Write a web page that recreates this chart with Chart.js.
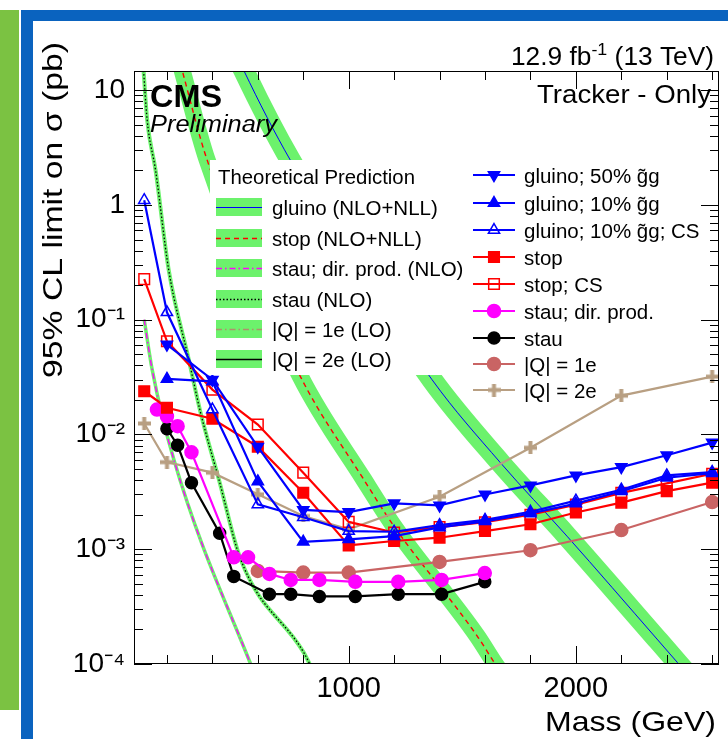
<!DOCTYPE html>
<html><head><meta charset="utf-8">
<script src="https://cdn.jsdelivr.net/npm/chart.js@4/dist/chart.umd.min.js"></script>
<style>html,body{margin:0;padding:0;background:#fff;}canvas{display:block}</style>
</head><body>
<canvas id="c" width="728" height="739"></canvas>
<script>
// ---------------- data ----------------
const X_MIN = 55, X_MAX = 2630;
const Y_MIN = 1e-4, Y_MAX = 14.7;
const xTickValues = [200,400,600,800,1000,1200,1400,1600,1800,2000,2200,2400,2600];
const xMajorLabels = [1000, 2000];
const yDecadeLabels = {'-4':'10⁻⁴','-3':'10⁻³','-2':'10⁻²','-1':'10⁻¹','0':'1','1':'10'};

const massG50 = [200,400,600,800,1000,1200,1400,1600,1800,2000,2200,2400,2600];
const gluino50 = [0.0607,0.030,0.0078,0.0022,0.00211,0.00251,0.00241,0.0030,0.0036,0.0044,0.0052,0.0066,0.0085];
const massG10 = [200,400,600,800,1000,1200,1400,1600,1800,2000,2200,2400,2600];
const gluino10 = [0.0305,0.029,0.0039,0.00116,0.00122,0.0013,0.00155,0.00175,0.00205,0.0025,0.0032,0.0042,0.0046];
const massG10CS = [100,200,400,600,800,1000,1200,1400,1600,1800,2000,2200,2400,2600];
const gluino10CS = [1.10,0.116,0.0165,0.00246,0.0019,0.00144,0.00142,0.00162,0.0018,0.00212,0.00265,0.0033,0.0044,0.0047];
const massStop = [100,200,400,600,800,1000,1200,1400,1600,1800,2000,2200,2400,2600];
const stop = [0.0238,0.0171,0.0137,0.00782,0.00311,0.00108,0.00118,0.00126,0.00144,0.00165,0.00209,0.00255,0.00321,0.0038];
const stopCS = [0.226,0.0649,0.0246,0.0122,0.00465,0.00173,0.0014,0.00156,0.00172,0.0020,0.00245,0.0031,0.00375,0.00455];
const massStauDir = [156,200,247,308,494,557,651,745,871,1029,1218,1409,1599];
const stauDir = [0.0165,0.0144,0.0118,0.0070,0.00085,0.00085,0.00061,0.00054,0.00054,0.00052,0.00052,0.00054,0.00062];
const massStau = [200,247,308,432,494,651,745,871,1029,1218,1409,1599];
const stau = [0.01122,0.00807,0.0038,0.00138,0.00058,0.000406,0.000406,0.000388,0.000388,0.000406,0.000406,0.00052];
const massQ1 = [600,800,1000,1400,1800,2200,2600];
const q1 = [0.000647,0.000626,0.000626,0.000776,0.00098,0.00147,0.00258];
const massQ2 = [100,200,400,600,800,1000,1400,1800,2200,2600];
const q2 = [0.01247,0.00574,0.00465,0.00301,0.00195,0.00149,0.00287,0.00766,0.0218,0.0319];

// theory predictions (central values read along the bands)
const massThGluino = [500,538,743,1367,1667,1961,2357,2447,2520];
const thGluino = [22,14.9,2.46,0.030,0.0057,0.0013,1.65e-4,1.03e-4,7e-5];
const massThStop = [250,267,377,787,1066,1198,1565,1645,1700];
const thStop = [20,14.9,2.46,0.0321,0.00406,0.0016,1.76e-4,1.0e-4,7e-5];
const massThStauDir = [100,135,230,560,590];
const thStauDir = [0.1,0.0367,0.00607,1.1e-4,8e-5];
const massThStau = [95,113,150,208,296,348,428,524,802,840];
const thStau = [17,5.5,2.0,0.27,0.045,0.0155,0.0041,0.00082,1.26e-4,9e-5];

const legendTheory = ['gluino (NLO+NLL)','stop (NLO+NLL)','stau; dir. prod. (NLO)','stau (NLO)','|Q| = 1e (LO)','|Q| = 2e (LO)'];
const legendData = ['gluino; 50% g̃g','gluino; 10% g̃g','gluino; 10% g̃g; CS','stop','stop; CS','stau; dir. prod.','stau','|Q| = 1e','|Q| = 2e'];

// ---------------- styling ----------------
const FONT = '"Liberation Sans", Arial, Helvetica, sans-serif';
const BLUE='#0000ff', RED='#ff0000', MAG='#ff00ff', BLK='#000000', ROSY='#c96464', TAN='#b89f82';
const GREEN='#6cf26c';

function pts(xs, ys){ return xs.map((x,i)=>({x:x, y:ys[i]})); }

const plusMarker = document.createElement('canvas');
plusMarker.width = 13; plusMarker.height = 13;
(function(){ const g = plusMarker.getContext('2d'); g.fillStyle = TAN;
  g.fillRect(4.5,0,4,13); g.fillRect(0,4.5,13,4); })();

function dataDS(label, xs, ys, color, style, opts){
  return Object.assign({label, data: pts(xs,ys), borderColor: color, backgroundColor: color,
    borderWidth: 2.2, pointStyle: style, pointRadius: 6, pointBorderWidth: 1.5,
    pointBackgroundColor: color, pointBorderColor: color, tension: 0, order: 0, fill:false}, opts||{});
}
function bandDS(xs, ys, width){
  return {data: pts(xs,ys), borderColor: GREEN, borderWidth: width, pointRadius: 0, borderCapStyle:'butt',
    cubicInterpolationMode:'monotone', order: 20, fill:false, label:'band'};
}
function lineDS(xs, ys, color, width, dash){
  return {data: pts(xs,ys), borderColor: color, borderWidth: width, pointRadius: 0, borderDash: dash||[],
    cubicInterpolationMode:'monotone', order: 10, fill:false, label:'th'};
}

const datasets = [
  dataDS('g50', massG50, gluino50, BLUE, 'triangle', {pointRotation:180, pointRadius:6.5}),
  dataDS('g10', massG10, gluino10, BLUE, 'triangle', {pointRadius:6.5}),
  dataDS('g10cs', massG10CS, gluino10CS, BLUE, 'triangle', {pointRadius:6.5, pointBackgroundColor:'rgba(0,0,0,0)'}),
  dataDS('stop', massStop, stop, RED, 'rect', {pointRadius:7.5}),
  dataDS('stopcs', massStop, stopCS, RED, 'rect', {pointRadius:7.5, pointBackgroundColor:'rgba(0,0,0,0)'}),
  dataDS('staudir', massStauDir, stauDir, MAG, 'circle', {pointRadius:6.5}),
  dataDS('stau', massStau, stau, BLK, 'circle', {pointRadius:6}),
  dataDS('q1', massQ1, q1, ROSY, 'circle', {pointRadius:6.5}),
  dataDS('q2', massQ2, q2, TAN, plusMarker, {}),
  lineDS(massThGluino, thGluino, BLUE, 1),
  lineDS(massThStop, thStop, RED, 1.4, [5,4]),
  lineDS(massThStauDir, thStauDir, MAG, 1.4, [6,3,1.5,3]),
  lineDS(massThStau, thStau, BLK, 1.3, [1.5,2]),
  bandDS(massThGluino, thGluino, 21),
  bandDS(massThStop, thStop, 17),
  bandDS(massThStauDir, thStauDir, 3.5),
  bandDS(massThStau, thStau, 4),
];

function txt(ctx, s, x, y, size, opt){
  opt = opt || {};
  ctx.save();
  ctx.font = (opt.style||'') + ' ' + size + 'px ' + FONT;
  ctx.fillStyle = opt.color || '#000';
  ctx.textBaseline = 'alphabetic';
  const w = ctx.measureText(s).width;
  const sx = opt.width ? opt.width / w : (opt.sx || 1);
  let x0 = x;
  if (opt.align === 'right') x0 = x - w*sx; else if (opt.align === 'center') x0 = x - w*sx/2;
  ctx.translate(x0, y); ctx.scale(sx, 1);
  ctx.textAlign = 'left';
  ctx.fillText(s, 0, 0);
  ctx.restore();
  return w*sx;
}

const decor = {
  id: 'decor',
  beforeDraw(chart){
    const ctx = chart.ctx;
    ctx.save();
    ctx.fillStyle = '#fff'; ctx.fillRect(0,0,728,739);
    ctx.fillStyle = '#7bc242'; ctx.fillRect(0,10,19,700);
    ctx.fillStyle = '#0a63bf';
    ctx.fillRect(21,10,12,729); ctx.fillRect(21,10,707,11);
    ctx.restore();
  },
  afterDatasetsDraw(chart){
    const ctx = chart.ctx, a = chart.chartArea;
    const xs = chart.scales.x, ys = chart.scales.y;
    ctx.save();
    ctx.strokeStyle = '#000'; ctx.lineWidth = 1;
    ctx.strokeRect(a.left+0.5, a.top+0.5, a.right-a.left-1, a.bottom-a.top-1);
    ctx.beginPath();
    for (let d=-4; d<=1; d++){
      for (let k=1; k<=9; k++){
        const v = k*Math.pow(10,d);
        if (v < Y_MIN*0.999 || v > Y_MAX) continue;
        const py = Math.round(ys.getPixelForValue(v))+0.5;
        const L = k===1 ? 18 : 9;
        ctx.moveTo(a.left, py); ctx.lineTo(a.left+L, py);
        ctx.moveTo(a.right, py); ctx.lineTo(a.right-L, py);
      }
    }
    xTickValues.forEach(m=>{
      const px = Math.round(xs.getPixelForValue(m))+0.5;
      const L = xMajorLabels.includes(m) ? 18 : 9;
      ctx.moveTo(px, a.bottom); ctx.lineTo(px, a.bottom-L);
      ctx.moveTo(px, a.top); ctx.lineTo(px, a.top+L);
    });
    ctx.stroke();

    ctx.fillStyle = '#fff'; ctx.fillRect(210,160,255,215);
    txt(ctx, 'Theoretical Prediction', 218, 184, 20.5, {width:197});
    const lrows = [207,238,268,299,329,359];
    const tStyles = [[BLUE,1.2,[]],[RED,1.4,[5,4]],[MAG,1.4,[6,3,1.5,3]],[BLK,1.3,[1.5,2]],['#b0906c',1.4,[6,3,1.5,3]],[BLK,1.4,[]]];
    lrows.forEach((y,i)=>{
      ctx.fillStyle = GREEN; ctx.fillRect(216, y-9, 46, 18);
      ctx.strokeStyle = tStyles[i][0]; ctx.lineWidth = tStyles[i][1]; ctx.setLineDash(tStyles[i][2]);
      ctx.beginPath(); ctx.moveTo(216, y+0.5); ctx.lineTo(262, y+0.5); ctx.stroke();
      ctx.setLineDash([]);
      txt(ctx, legendTheory[i], 272, y+7.5, 20.5, {});
    });

    const rrows = [175,203,230,257,284,311,338,364,390];
    datasets.slice(0,9).forEach((ds,i)=>{
      const y = rrows[i];
      ctx.strokeStyle = ds.borderColor; ctx.lineWidth = 2.2;
      ctx.beginPath(); ctx.moveTo(473, y); ctx.lineTo(515, y); ctx.stroke();
      ctx.fillStyle = ds.pointBackgroundColor; ctx.strokeStyle = ds.pointBorderColor; ctx.lineWidth = ds.pointBorderWidth;
      Chart.helpers.drawPoint(ctx, {pointStyle: ds.pointStyle, rotation: ds.pointRotation||0, radius: ds.pointRadius, borderWidth: ds.pointBorderWidth}, 494, y);
      txt(ctx, legendData[i], 524, y+7.5, 20.5, {});
    });

    txt(ctx, 'CMS', 150, 107, 32, {style:'bold', width:72});
    txt(ctx, 'Preliminary', 150, 132, 23, {style:'italic', width:127});
    txt(ctx, 'Tracker - Only', 711, 103, 25, {align:'right', width:174});
    {
      const parts = [['12.9 fb',25,0],['-1',17,-10],[' (13 TeV)',25,0]];
      let tot = 0; parts.forEach(p=>{ctx.font=p[1]+'px '+FONT; tot += ctx.measureText(p[0]).width;});
      const sx = 203/tot; let x = 714 - 203;
      parts.forEach(p=>{ x += txt(ctx, p[0], x, 65+p[2], p[1], {sx:sx}); });
    }
    txt(ctx, 'Mass (GeV)', 716, 731, 28, {align:'right', width:171});
    ctx.save();
    ctx.translate(62, 42); ctx.rotate(-Math.PI/2);
    txt(ctx, '95% CL limit on σ (pb)', 0, 0, 28, {align:'right', width:336});
    ctx.restore();
    ctx.restore();
  }
};

new Chart(document.getElementById('c'), {
  type: 'line',
  data: { datasets },
  options: {
    responsive: false, animation: false, devicePixelRatio: 1,
    layout: { padding: {top: 71, right: 9, left: 0, bottom: 0} },
    plugins: { legend: {display:false}, tooltip: {enabled:false} },
    scales: {
      x: { type:'linear', min: X_MIN, max: X_MAX,
           grid: {display:false, drawTicks:false}, border: {display:false},
           afterFit: s => { s.height = 75; },
           afterBuildTicks: s => { s.ticks = xTickValues.map(v => ({value: v})); },
           ticks: { autoSkip:false, maxRotation:0, padding: 8, color:'#000',
                    font:{family: FONT, size: 29},
                    callback: v => xMajorLabels.includes(v) ? String(v) : '' } },
      y: { type:'logarithmic', min: Y_MIN, max: Y_MAX,
           grid: {display:false, drawTicks:false}, border: {display:false},
           afterFit: s => { s.width = 134; },
           ticks: { autoSkip:false, padding: 9, color:'#000', font:{family: FONT, size: 28},
                    callback: v => { const l = Math.log10(v); const r = Math.round(l);
                      return Math.abs(l-r) < 1e-6 && yDecadeLabels[String(r)] ? yDecadeLabels[String(r)] : ''; } } }
    }
  },
  plugins: [decor]
});
</script>
</body></html>
